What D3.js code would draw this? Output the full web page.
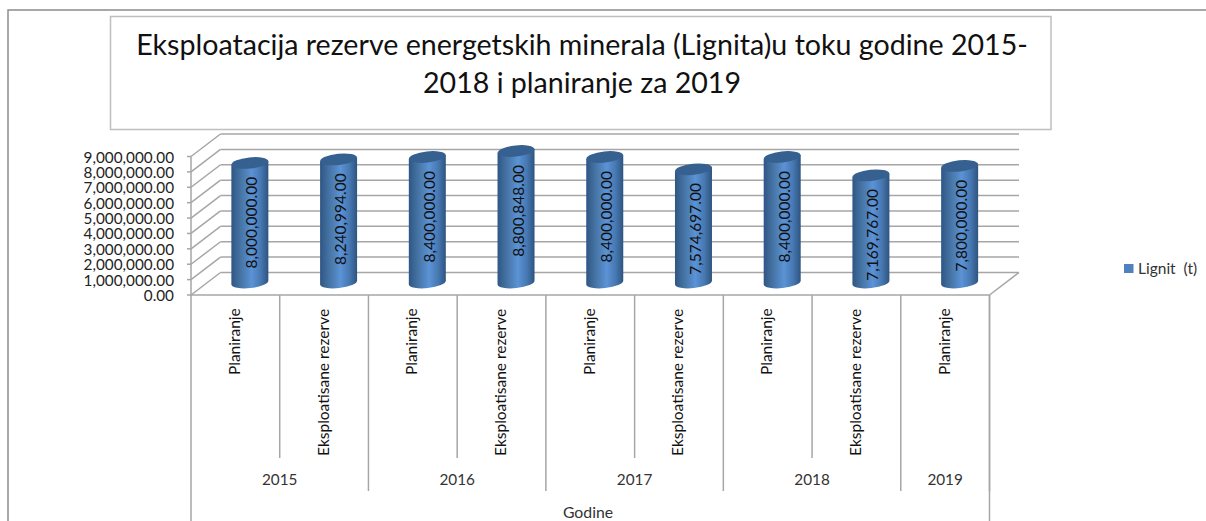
<!DOCTYPE html>
<html><head><meta charset="utf-8">
<script src="https://cdn.jsdelivr.net/npm/d3@7/dist/d3.min.js"></script>
<style>html,body{margin:0;background:#fff}svg{display:block}text{font-family:Lato,"Open Sans",sans-serif}</style>
</head><body><svg id="c" width="1206" height="521"></svg>
<script>
const years = ["2015","2016","2017","2018","2019"];
const yearSpans = [2,2,2,2,1];
const categories = ["Planiranje","Eksploatisane rezerve","Planiranje","Eksploatisane rezerve","Planiranje","Eksploatisane rezerve","Planiranje","Eksploatisane rezerve","Planiranje"];
const values = [8000000,8240994,8400000,8800848,8400000,7574697,8400000,7169767,7800000];
const yTicks = [0,1e6,2e6,3e6,4e6,5e6,6e6,7e6,8e6,9e6];
const titleLines = ["Eksploatacija rezerve energetskih minerala (Lignita)u toku godine 2015-","2018 i planiranje za 2019"];
const seriesName = "Lignit  (t)";
const axisName = "Godine";

const svg = d3.select("#c");
const grid = "#a6a6a6";
const fmt = d3.format(",.2f");
const L=191,R=989.5,F=295,dx=29.5,dy=-22.5;
const yFront = d3.scaleLinear().domain([0,9e6]).range([F,156.5]);
const yBar = d3.scaleLinear().domain([0,9e6]).range([282.5,148]);
const yLabel = d3.scaleLinear().domain([0,9e6]).range([340,208]);
const xBand = d3.scaleBand().domain(d3.range(categories.length)).range([L,R]);
const line=(g,x1,y1,x2,y2,c=grid,w=1.5)=>g.append("line").attr("x1",x1).attr("y1",y1).attr("x2",x2).attr("y2",y2).attr("stroke",c).attr("stroke-width",w);

const defs = svg.append("defs");
const g1 = defs.append("linearGradient").attr("id","body");
[[0,"#2f5685"],[.22,"#43709f"],[.55,"#5b93d6"],[.8,"#4677b0"],[1,"#2d5480"]].forEach(([o,c])=>g1.append("stop").attr("offset",o).attr("stop-color",c));

// frame
svg.append("path").attr("d","M8,521V10H1206").attr("fill","none").attr("stroke","#8c8c8c").attr("stroke-width",1.5);
svg.append("rect").attr("x",110.5).attr("y",16.5).attr("width",940.5).attr("height",113).attr("fill","#fff").attr("stroke","#bfbfbf").attr("stroke-width",1.5);
titleLines.forEach((t,i)=>svg.append("text").attr("x",582).attr("y",[55,93][i]).attr("text-anchor","middle").attr("font-size",28.6).attr("fill","#111").text(t));

// walls
yTicks.forEach(v=>{
  const y=yFront(v);
  line(svg,L,y,L+dx,y+dy);
  line(svg,L+dx,y+dy,R+dx,y+dy);
  line(svg,L-4,y,L,y);
  svg.append("text").attr("x",174).attr("y",y+6).attr("text-anchor","end").attr("font-size",15.3).attr("fill","#222").text(fmt(v));
});
line(svg,L,yFront(9e6),L,F);
line(svg,L,F,R,F);
line(svg,R,F,R+dx,F+dy);

// bars
const w=37, ry=5.6, tilt=-6;
values.forEach((v,i)=>{
  const cx=xBand(i)+xBand.bandwidth()/2+14.5, top=yBar(v), base=yBar(0);
  const g=svg.append("g");
  const sl=w/2*Math.sin(tilt*Math.PI/180);
  g.append("path").attr("d",`M${cx-w/2},${top-sl}L${cx+w/2},${top+sl}L${cx+w/2},${base+sl}A${w/2},${ry} ${tilt} 0 1 ${cx-w/2},${base-sl}Z`).attr("fill","url(#body)");
  g.append("ellipse").attr("rx",w/2).attr("ry",ry).attr("transform",`translate(${cx},${top}) rotate(${tilt})`).attr("fill","#36608f");
  g.append("text").attr("transform",`translate(${cx+7.5},${yLabel(v)}) rotate(-90)`).attr("text-anchor","middle").attr("font-size",15.5).attr("fill","#111").text(fmt(v));
});

// lower axis
const bw=xBand.bandwidth();
line(svg,L,F,L,521);
line(svg,R,F,R,521);
categories.forEach((c,i)=>{
  const cx=xBand(i)+bw/2;
  svg.append("text").attr("transform",`translate(${cx+4.5},${i%2?456:375}) rotate(-90)`).attr("text-anchor","start").attr("font-size",15.5).attr("fill","#111").text(c);
});
let pos=0;
yearSpans.forEach((s,i)=>{
  const x0=xBand(pos), x1=pos+s>=categories.length?R:xBand(pos+s);
  if(s===2) line(svg,xBand(pos+1),F,xBand(pos+1),458);
  line(svg,x1,F,x1,491);
  svg.append("text").attr("x",(x0+x1)/2).attr("y",485).attr("text-anchor","middle").attr("font-size",15.3).attr("fill","#333").text(years[i]);
  pos+=s;
});
svg.append("text").attr("x",588).attr("y",518).attr("text-anchor","middle").attr("font-size",15.8).attr("fill","#333").text(axisName);

// legend
svg.append("rect").attr("x",1124).attr("y",264).attr("width",9.5).attr("height",9).attr("fill","#4f81bd");
svg.append("text").attr("x",1138).attr("y",274).attr("font-size",15.5).attr("fill","#333").attr("xml:space","preserve").style("white-space","pre").text(seriesName);
</script></body></html>
